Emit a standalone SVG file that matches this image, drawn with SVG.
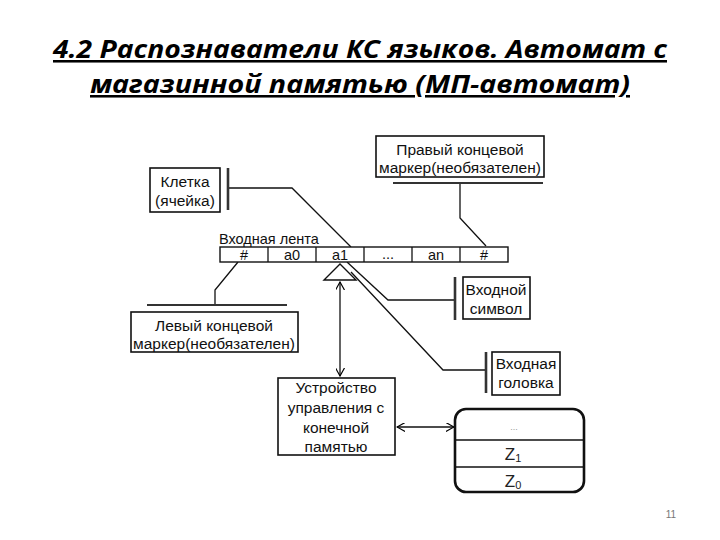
<svg xmlns="http://www.w3.org/2000/svg" width="720" height="540" viewBox="0 0 720 540">
<defs>
<marker id="open" viewBox="0 0 10 10" refX="9" refY="5" markerWidth="9" markerHeight="9" orient="auto-start-reverse" markerUnits="userSpaceOnUse">
<path d="M0,0 L9,5 L0,10" fill="none" stroke="#000" stroke-width="1.3"/>
</marker>
</defs>
<style>
.title{font-family:"Open Sans","Liberation Sans",sans-serif;font-weight:bold;font-style:italic;font-size:25.5px;fill:#000;text-decoration:underline}
.t{font-family:"Liberation Sans",Arial,sans-serif;font-size:15.5px;fill:#111;text-anchor:middle}
.c{font-family:"Liberation Sans",Arial,sans-serif;font-size:14.5px;fill:#111;text-anchor:middle}
.box{fill:#fff;stroke:#111;stroke-width:1.6}
.bar{stroke:#333;stroke-width:2.6}
.ln{fill:none;stroke:#111;stroke-width:1.3}
.cell{fill:#fff;stroke:#111;stroke-width:1.4}
</style>
<rect width="720" height="540" fill="#fff"/>
<g id="title">
<text class="title" x="360" y="58" text-anchor="middle" textLength="614" lengthAdjust="spacingAndGlyphs">4.2 Распознаватели КС языков. Автомат с</text>
<text class="title" x="360" y="93" text-anchor="middle" textLength="540" lengthAdjust="spacingAndGlyphs">магазинной памятью (МП-автомат)</text>
</g>
<g id="connectors">
<path class="ln" d="M228,188 L292,188 L351,247"/>
<path class="ln" d="M460,183 L460,218 L486,246"/>
<path class="ln" d="M238,262 L215,290 L215,305"/>
<path class="ln" d="M347,262 L388,300 L454,300"/>
<path class="ln" d="M351,272 L443,370 L485,370"/>
<line class="ln" x1="340" y1="282" x2="340" y2="376" marker-start="url(#open)" marker-end="url(#open)"/>
<line class="ln" x1="397" y1="427" x2="454" y2="427" marker-start="url(#open)" marker-end="url(#open)"/>
</g>
<g id="cell-label">
<rect class="box" x="150" y="168" width="70" height="44"/>
<line class="bar" x1="228" y1="168" x2="228" y2="210"/>
<text class="t" x="185" y="187">Клетка</text>
<text class="t" x="185" y="206">(ячейка)</text>
</g>
<g id="right-marker">
<rect class="box" x="376" y="136" width="168" height="41"/>
<line class="bar" x1="393" y1="183" x2="543" y2="183" style="stroke-width:1.8"/>
<text class="t" x="460" y="155">Правый концевой</text>
<text class="t" x="460" y="173">маркер(необязателен)</text>
</g>
<g id="tape">
<text class="c" x="219" y="244" style="text-anchor:start">Входная лента</text>
<rect class="cell" x="220" y="247" width="288" height="15"/>
<line class="ln" x1="268" y1="247" x2="268" y2="262"/>
<line class="ln" x1="316" y1="247" x2="316" y2="262"/>
<line class="ln" x1="364" y1="247" x2="364" y2="262"/>
<line class="ln" x1="412" y1="247" x2="412" y2="262"/>
<line class="ln" x1="460" y1="247" x2="460" y2="262"/>
<text class="c" x="244" y="260">#</text>
<text class="c" x="292" y="260">a0</text>
<text class="c" x="340" y="260">a1</text>
<text class="c" x="388" y="259">...</text>
<text class="c" x="436" y="260">an</text>
<text class="c" x="484" y="260">#</text>
</g>
<g id="head">
<polygon points="340,264 324,280 356,280" fill="#fff" stroke="#111" stroke-width="1.4"/>
</g>
<g id="left-marker">
<line class="bar" x1="147" y1="305" x2="287" y2="305" style="stroke-width:1.8"/>
<rect class="box" x="131" y="312" width="167" height="40"/>
<text class="t" x="214" y="331">Левый концевой</text>
<text class="t" x="214" y="349">маркер(необязателен)</text>
</g>
<g id="input-symbol">
<line class="bar" x1="455" y1="277" x2="455" y2="320"/>
<rect class="box" x="463" y="277" width="67" height="42"/>
<text class="t" x="496" y="295">Входной</text>
<text class="t" x="496" y="314">символ</text>
</g>
<g id="input-head">
<line class="bar" x1="486" y1="352" x2="486" y2="393"/>
<rect class="box" x="492" y="352" width="68" height="43"/>
<text class="t" x="526" y="369">Входная</text>
<text class="t" x="526" y="388">головка</text>
</g>
<g id="control">
<rect class="box" x="278" y="378" width="117" height="77"/>
<text class="t" x="336" y="393">Устройство</text>
<text class="t" x="336" y="413">управления с</text>
<text class="t" x="336" y="433">конечной</text>
<text class="t" x="336" y="452">памятью</text>
</g>
<g id="stack">
<rect x="455" y="409" width="129" height="83" rx="11" fill="#fff" stroke="#111" stroke-width="2.6"/>
<line x1="456" y1="440" x2="583" y2="440" stroke="#111" stroke-width="1.3"/>
<line x1="456" y1="467" x2="583" y2="467" stroke="#111" stroke-width="1.3"/>
<text x="514" y="430" style="font-family:'Liberation Sans',sans-serif;font-size:9px;fill:#999;text-anchor:middle">...</text>
<text x="513" y="460" style="font-family:'Liberation Sans',sans-serif;font-size:17px;fill:#222;text-anchor:middle">Z<tspan font-size="11" dy="2">1</tspan></text>
<text x="513" y="487" style="font-family:'Liberation Sans',sans-serif;font-size:17px;fill:#222;text-anchor:middle">Z<tspan font-size="11" dy="2">0</tspan></text>
</g>
<text x="671" y="518" style="font-family:'Liberation Sans',sans-serif;font-size:10px;fill:#777;text-anchor:middle">11</text>
</svg>
